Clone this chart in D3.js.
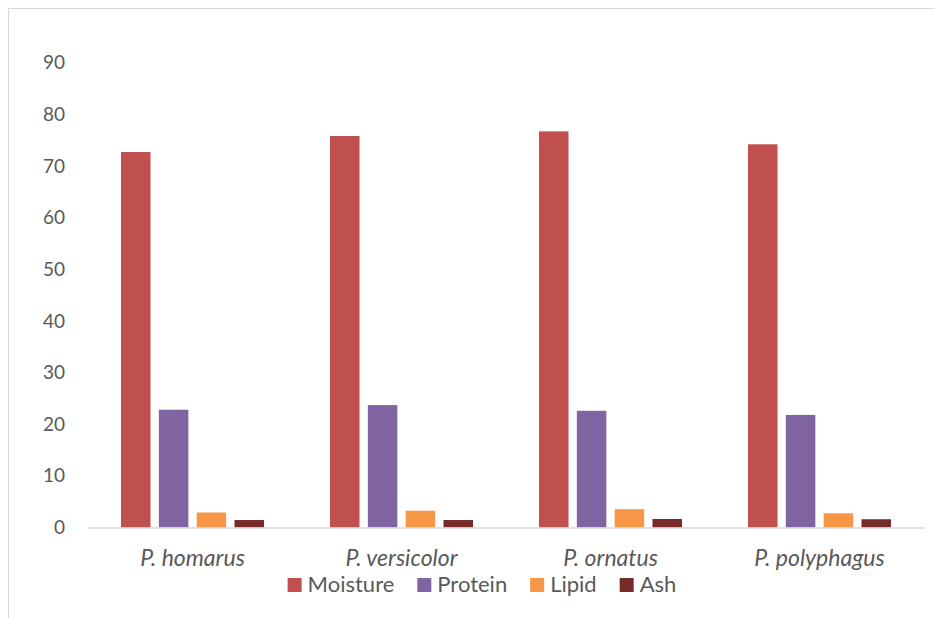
<!DOCTYPE html>
<html>
<head>
<meta charset="utf-8">
<script src="https://cdn.jsdelivr.net/npm/d3@7"></script>
<style>
  html, body { margin: 0; padding: 0; background: #fff; }
  svg { display: block; }
  text { font-family: Lato, "Open Sans", sans-serif; fill: #595959; }
</style>
</head>
<body>
<svg id="chart" width="935" height="618"></svg>
<script>
// Proximate composition (%) of four spiny lobster species
const species = ["P. homarus", "P. versicolor", "P. ornatus", "P. polyphagus"];
const seriesNames = ["Moisture", "Protein", "Lipid", "Ash"];
const moisture = [72.7, 75.8, 76.7, 74.2];
const protein  = [22.8, 23.7, 22.6, 21.8];
const lipid    = [2.9, 3.25, 3.55, 2.75];
const ash      = [1.45, 1.45, 1.65, 1.6];
const yTicks   = [0, 10, 20, 30, 40, 50, 60, 70, 80, 90];
const colors   = ["#C0504D", "#8064A2", "#F79646", "#772C2A"];

const seriesValues = [moisture, protein, lipid, ash];
const rows = species.map((s, i) => ({
  species: s,
  values: seriesNames.map((n, k) => ({ key: n, value: seriesValues[k][i] }))
}));

const svg = d3.select("#chart");
const W = 935, H = 618;

// outer chart frame
svg.append("rect")
  .attr("x", 8.5).attr("y", 8.5)
  .attr("width", W).attr("height", H)
  .attr("fill", "none").attr("stroke", "#d9d9d9").attr("stroke-width", 1);

const plot = { left: 88, right: 924, top: 62.7, bottom: 527.5 };

const x0 = d3.scaleBand().domain(species).range([plot.left, plot.right]).padding(0);
const x1 = d3.scaleBand().domain(seriesNames)
  .range([33, x0.bandwidth() - 33]).paddingInner(0.22).paddingOuter(0);
const y = d3.scaleLinear().domain([0, 90]).range([plot.bottom, plot.top]);
const color = d3.scaleOrdinal().domain(seriesNames).range(colors);

// y axis labels (no axis line, no gridlines)
const yAxis = d3.axisLeft(y).tickValues(yTicks).tickSize(0).tickPadding(0);
const gy = svg.append("g").attr("transform", "translate(65,0)").call(yAxis);
gy.select(".domain").remove();
gy.selectAll("text")
  .style("font-family", "Lato, 'Open Sans', sans-serif")
  .style("font-size", "19px").attr("fill", "#595959");

// bars
const groups = svg.append("g").selectAll("g").data(rows).join("g")
  .attr("transform", d => `translate(${x0(d.species)},0)`);
groups.selectAll("rect").data(d => d.values).join("rect")
  .attr("x", d => x1(d.key))
  .attr("width", x1.bandwidth())
  .attr("y", d => y(d.value))
  .attr("height", d => y(0) - y(d.value))
  .attr("fill", d => color(d.key));

// category axis
const xAxis = d3.axisBottom(x0).tickSize(0).tickPadding(0);
const gx = svg.append("g").attr("transform", `translate(0,${plot.bottom})`).call(xAxis);
gx.select(".domain").attr("stroke", "#d9d9d9").attr("stroke-width", 1.5);
gx.selectAll("text")
  .attr("dy", null).attr("y", 38.5)
  .style("font-family", "Lato, 'Open Sans', sans-serif")
  .style("font-size", "23px").style("font-style", "italic").attr("fill", "#595959");

// legend
const legend = svg.append("g");
const items = legend.selectAll("g").data(seriesNames).join("g");
items.append("rect").attr("width", 14).attr("height", 14).attr("y", 578)
  .attr("fill", d => color(d));
items.append("text").text(d => d).attr("x", 20).attr("y", 592)
  .style("font-size", "22px");
const widths = [];
items.each(function() {
  widths.push(20 + this.querySelector("text").getComputedTextLength());
});
const gap = 23;
const total = d3.sum(widths) + gap * (widths.length - 1);
let start = 482 - total / 2;
items.attr("transform", (d, i) => {
  const t = `translate(${start},0)`;
  start += widths[i] + gap;
  return t;
});
</script>
</body>
</html>
